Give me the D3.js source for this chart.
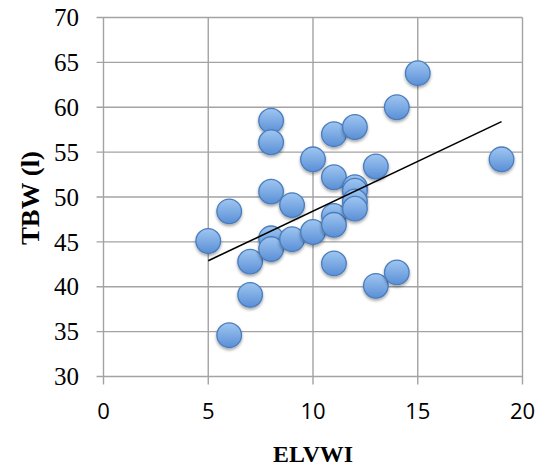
<!DOCTYPE html>
<html><head><meta charset="utf-8">
<script src="https://cdn.jsdelivr.net/npm/d3@7"></script>
<style>html,body{margin:0;padding:0;background:#fff;}svg{display:block;}</style>
</head><body>
<svg id="c" width="544" height="466"></svg>
<script>
const elvwi = [5, 6, 6, 7, 7, 8, 8, 8, 8, 8, 9, 9, 10, 10, 11, 11, 11, 11, 11, 12, 12, 12, 12, 12, 13, 13, 14, 14, 15, 19];
const tbw = [45.1, 48.4, 34.6, 42.8, 39.1, 58.5, 56.1, 50.6, 45.4, 44.2, 49.1, 45.3, 54.2, 46.1, 57.0, 52.2, 47.9, 46.9, 42.6, 57.8, 51.1, 50.7, 49.5, 48.7, 53.4, 40.1, 60.0, 41.6, 63.8, 54.2];
const trendX = [5, 19];
const trendY = [42.9, 58.4];
const xTicks = [0, 5, 10, 15, 20];
const yTicks = [30, 35, 40, 45, 50, 55, 60, 65, 70];
const xTitle = "ELVWI";
const yTitle = "TBW (l)";

const svg = d3.select("#c");
const x = d3.scaleLinear().domain([0, 20]).range([103.5, 522.5]);
const y = d3.scaleLinear().domain([30, 70]).range([376.5, 17.5]);

const defs = svg.append("defs");
const g = defs.append("linearGradient").attr("id", "bub").attr("x1", 0).attr("y1", 0).attr("x2", 0).attr("y2", 1);
g.append("stop").attr("offset", "0%").attr("stop-color", "#9fc6f1");
g.append("stop").attr("offset", "100%").attr("stop-color", "#5a8fd6");
const f = defs.append("filter").attr("id", "sh").attr("x", "-50%").attr("y", "-50%").attr("width", "200%").attr("height", "200%");
f.append("feDropShadow").attr("dx", 0).attr("dy", 2).attr("stdDeviation", 1.5).attr("flood-color", "#000").attr("flood-opacity", 0.35);

const gridColor = "#a3a3a3";
svg.append("g").selectAll("line").data(yTicks).join("line")
  .attr("x1", x(0) - 7).attr("x2", x(20)).attr("y1", d => y(d)).attr("y2", d => y(d))
  .attr("stroke", gridColor).attr("stroke-width", 1.4);
svg.append("g").selectAll("line").data(xTicks).join("line")
  .attr("y1", y(70)).attr("y2", y(30) + 8).attr("x1", d => x(d)).attr("x2", d => x(d))
  .attr("stroke", gridColor).attr("stroke-width", 1.4);

svg.append("g").selectAll("text").data(yTicks).join("text")
  .attr("x", 79).attr("y", d => y(d) + 3).attr("text-anchor", "end").attr("dominant-baseline", "middle")
  .attr("font-family", "Liberation Serif, serif").attr("font-size", 25).attr("fill", "#000")
  .text(d => d);
svg.append("g").selectAll("text").data(xTicks).join("text")
  .attr("x", d => x(d)).attr("y", 413).attr("text-anchor", "middle").attr("dominant-baseline", "middle")
  .attr("font-family", "Open Sans, sans-serif").attr("font-size", 22).attr("fill", "#000")
  .text(d => d);

svg.append("text").attr("x", x(10)).attr("y", 462).attr("text-anchor", "middle")
  .attr("font-family", "Liberation Serif, serif").attr("font-weight", "bold").attr("font-size", 24)
  .attr("textLength", 80).attr("lengthAdjust", "spacingAndGlyphs").text(xTitle);
svg.append("text").attr("transform", `translate(38.5,198) rotate(-90)`).attr("text-anchor", "middle")
  .attr("font-family", "Liberation Serif, serif").attr("font-weight", "bold").attr("font-size", 25)
  .attr("textLength", 94).attr("lengthAdjust", "spacingAndGlyphs").text(yTitle);

const pts = elvwi.map((d, i) => ({x: d, y: tbw[i]}));
svg.append("g").selectAll("circle").data(pts).join("circle")
  .attr("cx", d => x(d.x)).attr("cy", d => y(d.y)).attr("r", 12.3)
  .attr("fill", "url(#bub)").attr("stroke", "#4a7dbd").attr("stroke-width", 1.3)
  .attr("filter", "url(#sh)");

svg.append("line").attr("x1", x(trendX[0])).attr("y1", y(trendY[0]))
  .attr("x2", x(trendX[1])).attr("y2", y(trendY[1]))
  .attr("stroke", "#000").attr("stroke-width", 1.6);
</script>
</body></html>
